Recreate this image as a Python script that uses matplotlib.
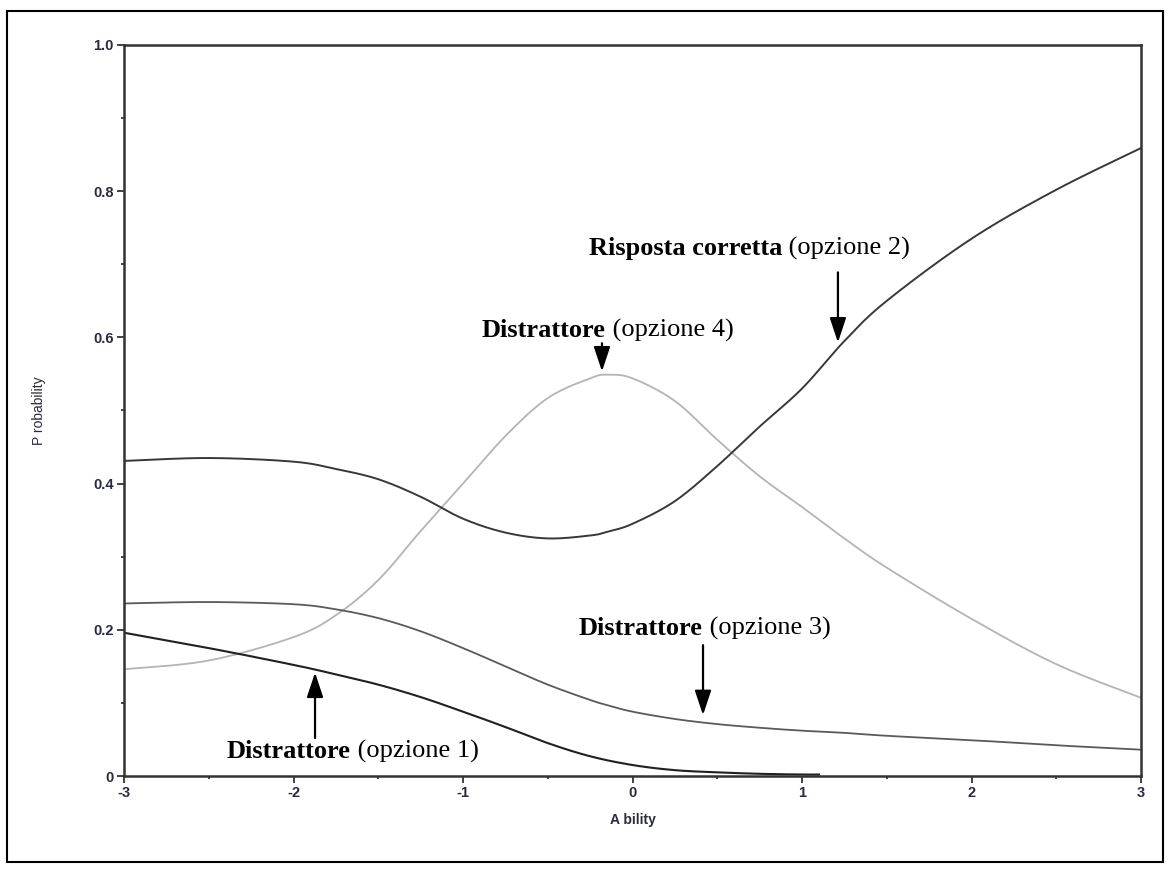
import numpy as np
import matplotlib
matplotlib.use("Agg")
import matplotlib.pyplot as plt
from matplotlib.patches import Rectangle
from matplotlib.ticker import MultipleLocator, FixedLocator

# ---- data ----
ability = [-3.0, -2.5, -2.0, -1.75, -1.5, -1.25, -1.0, -0.75, -0.5, -0.25, -0.15, 0.0,
           0.25, 0.5, 0.75, 1.0, 1.25, 1.5, 2.0, 2.5, 3.0]
opt2_correct = [0.431, 0.435, 0.430, 0.420, 0.406, 0.382, 0.352, 0.333, 0.325, 0.329, 0.334, 0.345,
                0.376, 0.424, 0.478, 0.530, 0.595, 0.650, 0.735, 0.802, 0.859]
opt4 = [0.146, 0.158, 0.190, 0.220, 0.268, 0.335, 0.400, 0.465, 0.517, 0.544, 0.549, 0.544,
        0.513, 0.460, 0.410, 0.368, 0.325, 0.285, 0.215, 0.153, 0.107]
opt3 = [0.236, 0.238, 0.235, 0.228, 0.216, 0.198, 0.175, 0.150, 0.125, 0.104, 0.097, 0.088,
        0.078, 0.071, 0.066, 0.062, 0.059, 0.055, 0.049, 0.042, 0.036]
opt1_x = [-3.0, -2.5, -2.0, -1.75, -1.5, -1.25, -1.0, -0.75, -0.5, -0.25, 0.0, 0.25, 0.5, 0.75, 1.0, 1.1]
opt1 = [0.196, 0.175, 0.152, 0.139, 0.125, 0.108, 0.088, 0.067, 0.045, 0.027, 0.015, 0.008, 0.005, 0.003, 0.002, 0.002]

x_ticks = [-3, -2, -1, 0, 1, 2, 3]
x_tick_labels = ["-3", "-2", "-1", "0", "1", "2", "3"]
y_ticks = [0, 0.2, 0.4, 0.6, 0.8, 1.0]
y_tick_labels = ["0", "0.2", "0.4", "0.6", "0.8", "1.0"]

W, H, DPI = 1174, 875, 100
fig = plt.figure(figsize=(W / DPI, H / DPI), dpi=DPI)
fig.patch.set_facecolor("white")

# outer frame
fig.patches.append(Rectangle((7 / W, 1 - 862 / H), (1163 - 7) / W, (862 - 11) / H,
                             transform=fig.transFigure, fill=False, edgecolor="black",
                             linewidth=1.5))

ax = fig.add_axes([124 / W, 1 - 776 / H, (1141 - 124) / W, (776 - 45) / H])


def dense(xp, yp):
    """Catmull-Rom curve through the read points (for drawing smooth lines)."""
    xp = np.asarray(xp, float); yp = np.asarray(yp, float)
    pts = []
    n = len(xp)
    for i in range(n - 1):
        p0 = np.array((xp[max(i - 1, 0)], yp[max(i - 1, 0)]))
        p1 = np.array((xp[i], yp[i])); p2 = np.array((xp[i + 1], yp[i + 1]))
        p3 = np.array((xp[min(i + 2, n - 1)], yp[min(i + 2, n - 1)]))
        for t in np.linspace(0, 1, 30, endpoint=False):
            p = 0.5 * (2 * p1 + (-p0 + p2) * t + (2 * p0 - 5 * p1 + 4 * p2 - p3) * t * t
                       + (-p0 + 3 * p1 - 3 * p2 + p3) * t ** 3)
            pts.append(p)
    pts.append(np.array((xp[-1], yp[-1])))
    pts = np.array(pts)
    return pts[:, 0], pts[:, 1]


for xv, yv, col, lw in [(ability, opt4, "#b4b4b4", 1.3),
                        (ability, opt3, "#5a5a5a", 1.3),
                        (opt1_x, opt1, "#202020", 1.5),
                        (ability, opt2_correct, "#383838", 1.4)]:
    dx, dy = dense(xv, yv)
    ax.plot(dx, dy, color=col, linewidth=lw)

ax.set_xlim(-3, 3)
ax.set_ylim(0, 1.0)
ax.xaxis.set_major_locator(FixedLocator(x_ticks))
ax.set_xticklabels(x_tick_labels)
ax.xaxis.set_minor_locator(MultipleLocator(0.5))
ax.yaxis.set_major_locator(FixedLocator(y_ticks))
ax.set_yticklabels(y_tick_labels)
ax.yaxis.set_minor_locator(MultipleLocator(0.1))

for s in ax.spines.values():
    s.set_linewidth(1.8)
    s.set_color("#333333")
ax.tick_params(which="major", direction="out", length=5, width=1.2, color="#222222",
               labelsize=10.5, pad=2.5)
ax.tick_params(which="minor", direction="out", length=2.5, width=1.2, color="#222222")
for lab in ax.get_xticklabels() + ax.get_yticklabels():
    lab.set_fontfamily("Liberation Sans")
    lab.set_fontweight("bold")
    lab.set_color("#2a2a40")

ax.set_xlabel("A bility", fontsize=10, family="Liberation Sans", fontweight="bold",
              color="#2a2a40", labelpad=9)
ax.set_ylabel("P robability", fontsize=10, family="Liberation Sans",
              color="#2a2a40", labelpad=34)

# ---- annotations ----
serif = "Liberation Serif"
FS = 19
fig.canvas.draw()
renderer = fig.canvas.get_renderer()


def label(x, y, bold_txt, reg_txt):
    t1 = ax.text(x, y, bold_txt, fontsize=FS, family=serif, fontweight="bold",
                 ha="left", va="center", color="black")
    bb = t1.get_window_extent(renderer=renderer)
    xr = ax.transData.inverted().transform((bb.x1, 0))[0]
    ax.text(xr, y, " " + reg_txt, fontsize=FS, family=serif, ha="left", va="center",
            color="black")


def arrow(x, y_from, y_to):
    ax.annotate("", xy=(x, y_to), xytext=(x, y_from),
                arrowprops=dict(arrowstyle="-|>,head_length=1.5,head_width=0.5",
                                color="black", lw=1.6, shrinkA=0, shrinkB=0))


label(-0.257, 0.722, "Risposta corretta", "(opzione 2)")
x2 = 1.212
arrow(x2, 0.689, np.interp(x2, ability, opt2_correct) + 0.008)

label(-0.888, 0.610, "Distrattore", "(opzione 4)")
x4 = -0.18
arrow(x4, 0.592, np.interp(x4, ability, opt4) + 0.006)

label(-0.316, 0.202, "Distrattore", "(opzione 3)")
x3 = 0.416
arrow(x3, 0.179, np.interp(x3, ability, opt3) + 0.010)

label(-2.392, 0.033, "Distrattore", "(opzione 1)")
x1 = -1.873
arrow(x1, 0.052, np.interp(x1, opt1_x, opt1) - 0.004)

fig.savefig("out.png", dpi=DPI, facecolor="white")
